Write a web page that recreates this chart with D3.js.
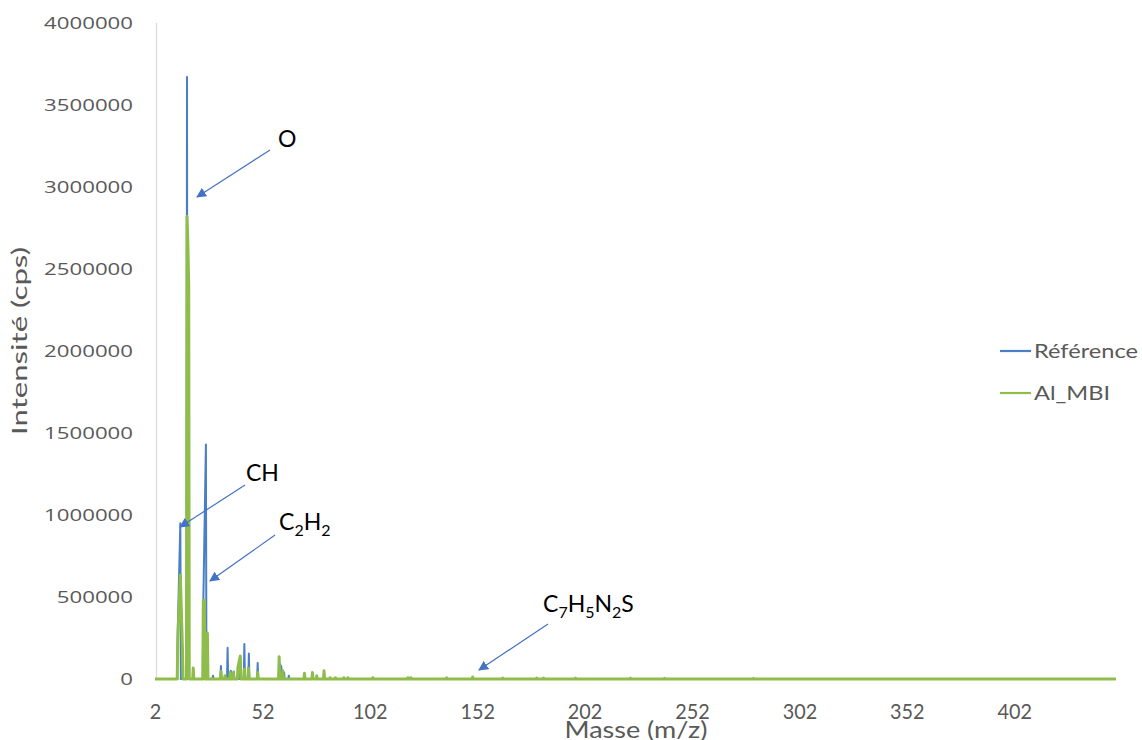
<!DOCTYPE html>
<html><head><meta charset="utf-8">
<script src="https://cdn.jsdelivr.net/npm/d3@7/dist/d3.min.js"></script>
<style>body{margin:0;background:#fff}svg{display:block}</style>
</head><body>
<svg id="c" width="1142" height="740"></svg>
<script>
// ---- data ----
const yTicks = [0, 500000, 1000000, 1500000, 2000000, 2500000, 3000000, 3500000, 4000000];
const xTicks = [2, 52, 102, 152, 202, 252, 302, 352, 402];
const massRange = [2, 449.4];

const refMass = [12.6, 13.8, 16.9, 24.5, 25.7, 29.0, 32.7, 35.8, 37.3, 38.7, 41.7, 43.6, 45.7, 49.8, 59.8, 60.8, 62.1, 64.3];
const refInt  = [300000, 950000, 3670000, 470000, 1430000, 20000, 80000, 190000, 50000, 45000, 127000, 213000, 155000, 97000, 100000, 75000, 40000, 20000];

const mbiMass = [12.6, 13.8, 14.8, 16.9, 17.3, 17.7, 19.8, 24.5, 25.0, 26.4, 32.7, 34.6, 37.0, 38.5, 40.6, 41.7, 43.6, 45.5, 49.8, 59.8, 61.5, 71.6, 75.3, 77.3, 80.7, 83.5, 86.0, 89.9, 91.8, 103.4, 119.7, 121.1, 137.8, 149.9, 163.9, 179.7, 182.9, 197.8, 223.4, 239.2, 280.6];
const mbiInt  = [240000, 634000, 177000, 2820000, 2660000, 2400000, 67000, 480000, 480000, 280000, 45000, 20000, 40000, 40000, 70000, 140000, 60000, 66000, 40000, 136000, 50000, 35000, 40000, 20000, 50000, 8000, 8000, 8000, 8000, 8000, 8000, 8000, 7000, 12000, 6000, 6000, 6000, 5000, 5000, 4000, 4000];

const seriesNames = ["Référence", "Al_MBI"];
const seriesColors = ["#4A7EC6", "#8FBD4C"];

// ---- build spectrum polylines (baseline + peaks) ----
function spectrum(ms, vs) {
  const pts = [[massRange[0], 0]];
  for (let i = 0; i < ms.length; i++) {
    const prev = i > 0 ? ms[i - 1] : -Infinity;
    const next = i < ms.length - 1 ? ms[i + 1] : Infinity;
    if (ms[i] - prev > 1.3) pts.push([ms[i] - 0.25, 0]);
    pts.push([ms[i], vs[i]]);
    if (next - ms[i] > 1.3) pts.push([ms[i] + 0.25, 0]);
  }
  pts.push([massRange[1], 0]);
  return pts;
}

const svg = d3.select("#c");
const x = d3.scaleLinear().domain(massRange).range([155, 1116]);
const y = d3.scaleLinear().domain([0, 4000000]).range([679, 23]);

// axis lines
svg.append("line").attr("x1", 156.5).attr("x2", 156.5).attr("y1", 23).attr("y2", 679)
  .attr("stroke", "#D9D9D9").attr("stroke-width", 1.2);
svg.append("line").attr("x1", 156).attr("x2", 1116).attr("y1", 679).attr("y2", 679)
  .attr("stroke", "#D9D9D9").attr("stroke-width", 1.2);

// y tick labels
const yAxis = d3.axisLeft(y).tickValues(yTicks).tickSize(0).tickPadding(0).tickFormat(d3.format("d"));
const gy = svg.append("g").attr("transform", "translate(133,0)").call(yAxis);
gy.select(".domain").remove();
gy.selectAll("text").attr("x", null).attr("dy", "0.35em")
  .style("font-family", "'Open Sans'").style("font-size", "15.5px").attr("fill", "#595959")
  .each(function(d){ const t = d3.select(this); t.attr("textLength", String(d).length * 12.7).attr("lengthAdjust", "spacingAndGlyphs"); });

// x tick labels
const xAxis = d3.axisBottom(x).tickValues(xTicks).tickSize(0).tickPadding(0).tickFormat(d3.format("d"));
const gx = svg.append("g").attr("transform", "translate(0,0)").call(xAxis);
gx.select(".domain").remove();
gx.selectAll(".tick text").attr("y", 719).attr("dy", null)
  .style("font-family", "Lato").style("font-size", "21px").attr("fill", "#595959")
  .each(function(d){ const t = d3.select(this); t.attr("textLength", String(d).length * 11.5).attr("lengthAdjust", "spacingAndGlyphs"); });

// axis titles
svg.append("text").attr("transform", "translate(27,341) rotate(-90)").attr("text-anchor", "middle")
  .style("font-family", "Lato").style("font-size", "21px").attr("fill", "#595959")
  .attr("textLength", 188).attr("lengthAdjust", "spacingAndGlyphs").text("Intensité (cps)");
svg.append("text").attr("x", 636).attr("y", 738).attr("text-anchor", "middle")
  .style("font-family", "Lato").style("font-size", "23px").attr("fill", "#595959")
  .attr("textLength", 143).attr("lengthAdjust", "spacingAndGlyphs").text("Masse (m/z)");

// series
const line = d3.line().x(d => x(d[0])).y(d => y(d[1]));
const data = [spectrum(refMass, refInt), spectrum(mbiMass, mbiInt)];
svg.selectAll("path.s").data(data).join("path").attr("class", "s")
  .attr("d", line).attr("fill", "none")
  .attr("stroke", (d, i) => seriesColors[i])
  .attr("stroke-width", (d, i) => i === 0 ? 2 : 3)
  .attr("stroke-linejoin", "round");

// legend
const lg = svg.append("g");
const legendWidths = [104, 76];
seriesNames.forEach((n, i) => {
  const yy = 351 + i * 42;
  lg.append("line").attr("x1", 1000).attr("x2", 1031).attr("y1", yy).attr("y2", yy)
    .attr("stroke", seriesColors[i]).attr("stroke-width", 2.2);
  lg.append("text").attr("x", 1034).attr("y", yy).attr("dy", "0.35em")
    .style("font-family", "Lato").style("font-size", "20px").attr("fill", "#595959")
    .attr("textLength", legendWidths[i]).attr("lengthAdjust", "spacingAndGlyphs")
    .text(n);
});

// annotations
const defs = svg.append("defs");
defs.append("marker").attr("id", "ah").attr("viewBox", "0 0 10 10").attr("refX", 9).attr("refY", 5)
  .attr("markerWidth", 10).attr("markerHeight", 10).attr("markerUnits", "userSpaceOnUse").attr("orient", "auto")
  .append("path").attr("d", "M0,0 L10,5 L0,10 Z").attr("fill", "#4472C4");

const arrows = [
  {x1: 270, y1: 150, x2: 197, y2: 197},
  {x1: 245, y1: 485, x2: 180, y2: 527},
  {x1: 275, y1: 535, x2: 210, y2: 581},
  {x1: 548, y1: 624, x2: 479, y2: 670}
];
svg.selectAll("line.ar").data(arrows).join("line").attr("class", "ar")
  .attr("x1", d => d.x1).attr("y1", d => d.y1).attr("x2", d => d.x2).attr("y2", d => d.y2)
  .attr("stroke", "#4472C4").attr("stroke-width", 1.2).attr("marker-end", "url(#ah)");

const labels = [
  {x: 278, y: 147, parts: [["O", 0]]},
  {x: 246, y: 481, parts: [["CH", 0]]},
  {x: 279, y: 530, parts: [["C", 0], ["2", 1], ["H", 0], ["2", 1]]},
  {x: 543, y: 612, parts: [["C", 0], ["7", 1], ["H", 0], ["5", 1], ["N", 0], ["2", 1], ["S", 0]]}
];
labels.forEach(l => {
  const t = svg.append("text").attr("x", l.x).attr("y", l.y)
    .style("font-family", "Lato").style("font-size", "23px").attr("fill", "#000");
  l.parts.forEach(p => {
    const ts = t.append("tspan").text(p[0]);
    if (p[1]) ts.attr("dy", 6).style("font-size", "16px");
    else if (t.selectAll("tspan").size() > 1) ts.attr("dy", -6);
  });
});
</script>
</body></html>
